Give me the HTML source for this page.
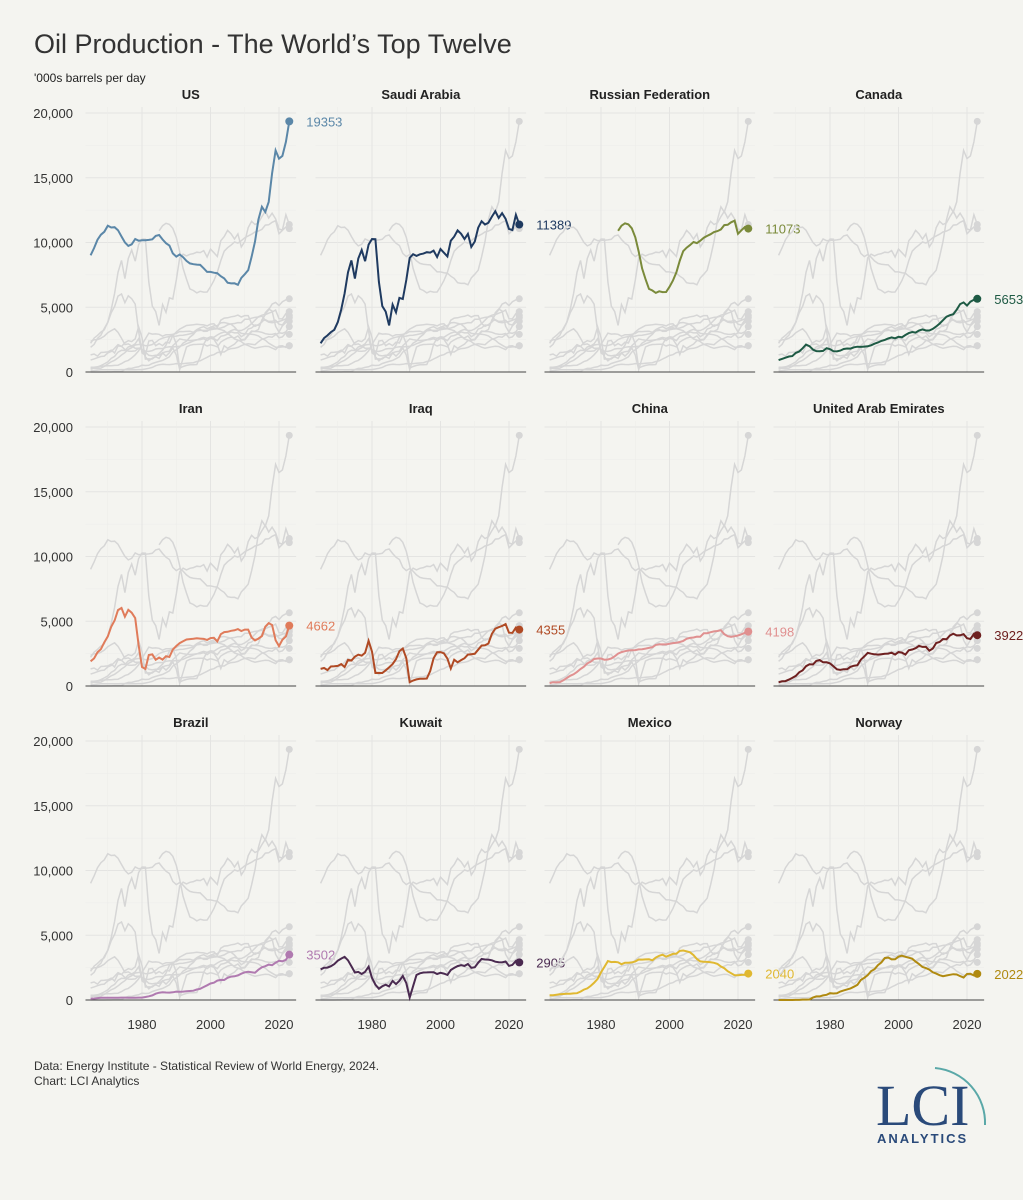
<!DOCTYPE html>
<html><head><meta charset="utf-8">
<style>
body{margin:0;background:#f4f4f0;}
svg{display:block;font-family:"Liberation Sans",sans-serif;}
</style></head>
<body>
<svg id="chart" width="1023" height="1200" viewBox="0 0 1023 1200">
<rect width="1023" height="1200" fill="#f4f4f0"/>
<text x="34" y="53" font-size="27" fill="#333">Oil Production - The World’s Top Twelve</text>
<text x="34" y="82" font-size="12" fill="#222">'000s barrels per day</text>
<text x="34" y="1070" font-size="12" fill="#333">Data: Energy Institute - Statistical Review of World Energy, 2024.</text>
<text x="34" y="1085" font-size="12" fill="#333">Chart: LCI Analytics</text>
<g>
<path d="M935 1068 A55 55 0 0 1 985 1125" fill="none" stroke="#5aa8a8" stroke-width="2"/>
<text x="876" y="1125" font-family="Liberation Serif,serif" font-size="58" fill="#2a4a7a">LCI</text>
<text x="877" y="1143" font-size="13" font-weight="bold" letter-spacing="2" fill="#2a4a7a">ANALYTICS</text>
</g>
<g id="panels"></g>
</svg>
<script>
const startYear = 1965;
const countries = ["US","Saudi Arabia","Russian Federation","Canada","Iran","Iraq","China","United Arab Emirates","Brazil","Kuwait","Mexico","Norway"];
const colors = ["#5b87a8","#1f3a60","#7a8a3a","#1e5a44","#e07b5a","#b04a24","#e09090","#6e2020","#b07ab0","#4a2a50","#e0b830","#b08a10"];
const usValues = [9014,9579,10219,10600,10828,11297,11156,11185,10946,10461,10008,9736,9863,10274,10136,10170,10181,10199,10247,10509,10580,10231,9944,9765,9159,8914,9076,8868,8583,8389,8322,8295,8269,8011,7731,7733,7669,7626,7400,7228,6895,6841,6847,6734,7270,7549,7859,8894,10071,11768,12757,12354,13135,15348,17114,16476,16685,17770,19353];
const saudiValues = [2219,2615,2825,3081,3262,3851,4821,6070,7693,8618,7216,8762,9419,8554,9841,10270,10256,6961,5086,4663,3601,5208,4599,5720,5635,7106,8820,9098,8962,9087,9145,9254,9218,9376,8884,9491,9209,8928,10141,10458,10931,10671,10268,10663,9663,10075,11144,11635,11393,11519,11998,12406,11892,12261,11832,11039,10954,12136,11389];
const russiaValues = [null,null,null,null,null,null,null,null,null,null,null,null,null,null,null,null,null,null,null,null,10900,11300,11480,11400,11100,10400,9300,8000,7170,6420,6290,6110,6230,6170,6180,6580,7060,7700,8600,9330,9600,9800,10040,9950,10140,10370,10510,10640,10810,10880,11010,11340,11370,11560,11680,10670,10940,11200,11073];
const canadaValues = [920,1012,1106,1194,1228,1473,1582,1829,2114,1995,1735,1617,1606,1630,1839,1764,1610,1590,1653,1773,1812,1807,1907,1950,1936,1965,1981,2065,2184,2276,2402,2480,2588,2672,2604,2721,2677,2858,3004,3085,3041,3208,3290,3207,3202,3332,3515,3740,4000,4271,4388,4464,4813,5244,5372,5130,5429,5576,5653];
const iranValues = [1908,2132,2603,2840,3376,3829,4572,5059,5861,6022,5350,5883,5663,5242,3168,1467,1315,2391,2442,2032,2193,2037,2298,2240,2814,3088,3312,3455,3587,3618,3643,3686,3664,3634,3557,3696,3724,3444,3999,4164,4185,4260,4303,4396,4249,4356,4358,3742,3525,3663,3853,4578,4855,4712,3536,3084,3569,3821,4662];
const iraqValues = [1321,1392,1228,1503,1521,1549,1694,1466,2018,1971,2262,2415,2348,2563,3489,2658,1000,1010,1005,1209,1433,1690,2079,2685,2897,2149,305,425,512,553,560,579,1155,2150,2610,2614,2523,2116,1344,2030,1833,1999,2143,2428,2452,2490,2801,3116,3141,3285,4031,4423,4538,4632,4779,4114,4102,4520,4355];
const chinaValues = [227,291,278,304,437,616,785,904,1090,1315,1490,1742,1878,2082,2122,2124,2030,2045,2123,2296,2505,2621,2690,2739,2757,2774,2828,2845,2890,2939,2993,3175,3211,3212,3213,3257,3310,3346,3401,3481,3642,3711,3742,3814,3805,4077,4074,4155,4216,4246,4309,3999,3846,3802,3848,3901,3994,4111,4198];
const uaeValues = [282,360,382,497,628,779,1059,1203,1532,1679,1664,1936,1999,1831,1831,1745,1528,1288,1246,1297,1287,1484,1564,1610,2032,2283,2556,2493,2446,2428,2458,2484,2503,2568,2428,2620,2581,2426,2756,2818,2922,3098,3020,3026,2725,2895,3320,3399,3627,3603,3898,4038,3910,3912,3998,3693,3629,4021,3922];
const brazilValues = [96,118,148,168,179,171,176,173,176,182,183,181,172,174,182,188,229,284,356,484,563,593,580,569,596,650,644,646,669,693,718,807,868,1003,1133,1271,1337,1499,1555,1542,1716,1809,1833,1899,2029,2137,2179,2145,2110,2341,2525,2608,2734,2685,2877,3026,2987,3107,3502];
const kuwaitValues = [2371,2484,2500,2613,2773,3036,3197,3339,3067,2613,2124,2168,2004,2175,2575,1706,1183,865,1066,1185,1054,1475,1227,1485,1852,1306,193,1069,1931,2061,2122,2134,2145,2150,2011,2103,2040,1935,2317,2475,2618,2690,2636,2782,2489,2536,2880,3169,3129,3123,3068,2954,2916,2901,2974,2636,2712,3018,2905];
const mexicoValues = [362,370,411,439,461,487,486,506,525,652,806,897,1085,1330,1630,2129,2553,3001,2930,2942,2912,2764,2879,2879,2904,2977,3126,3117,3132,3142,3065,3277,3410,3499,3343,3450,3560,3585,3789,3824,3760,3683,3471,3167,2978,2959,2940,2911,2875,2785,2588,2456,2224,2069,1918,1914,1941,1944,2040];
const norwayValues = [0,0,0,0,0,6,6,33,32,35,189,279,280,356,403,528,501,520,660,745,817,897,1024,1171,1545,1716,1923,2229,2377,2693,2903,3232,3280,3138,3139,3346,3418,3333,3264,3189,2969,2779,2551,2465,2350,2136,2039,1917,1838,1895,1948,1995,1969,1844,1730,2004,2025,1901,2022];
const series = [usValues,saudiValues,russiaValues,canadaValues,iranValues,iraqValues,chinaValues,uaeValues,brazilValues,kuwaitValues,mexicoValues,norwayValues];
const yTicks = [0,5000,10000,15000,20000];
const yTickLabels = ["0","5,000","10,000","15,000","20,000"];
const xTicks = [1980,2000,2020];

const NS="http://www.w3.org/2000/svg";
const root=document.getElementById('panels');
function mk(tag,attrs,parent){const e=document.createElementNS(NS,tag);for(const k in attrs)e.setAttribute(k,attrs[k]);parent.appendChild(e);return e;}
const colOff=[0,230,459,688], rowOff=[0,314,628];
function xs(c,year){return 142+colOff[c]+(year-1980)*3.425;}
function ys(r,v){return 372+rowOff[r]-v*0.01295;}
function pathFor(vals,c,r){let d="",pen=false;vals.forEach((v,i)=>{if(v===null){pen=false;return;}d+=(pen?"L":"M")+xs(c,startYear+i).toFixed(1)+" "+ys(r,v).toFixed(1);pen=true;});return d;}
function lastIdx(vals){return vals.length-1;}

for(let k=0;k<12;k++){
  const c=k%4,r=Math.floor(k/4);
  const g=mk('g',{},root);
  
  
  const x0=xs(c,1963.5),x1=xs(c,2025);
  for(let v=0;v<=20000;v+=2500){
    const gl=mk('line',{x1:x0,x2:x1,y1:ys(r,v),y2:ys(r,v),stroke:v%5000?'#ececea':'#e4e4e2','stroke-width':v%5000?0.6:1},g);
    
    
  }
  for(let yr=1970;yr<=2020;yr+=10){
    const gl=mk('line',{x1:xs(c,yr),x2:xs(c,yr),y1:ys(r,0),y2:ys(r,20000)-6,stroke:yr%20?'#ececea':'#e4e4e2','stroke-width':yr%20?0.6:1},g);
    
    
  }
  const t=mk('text',{x:(x0+x1)/2,y:ys(r,20000)-14,'text-anchor':'middle','font-size':13,'font-weight':'bold',fill:'#222'},g);
  t.textContent=countries[k];
  
  
  series.forEach((vals,j)=>{
    if(j===k)return;
    const p=mk('path',{d:pathFor(vals,c,r),fill:'none',stroke:'#d6d6d6','stroke-width':1.5},g);
    
    
    const li=lastIdx(vals);
    const d=mk('circle',{cx:xs(c,startYear+li),cy:ys(r,vals[li]),r:3.5,fill:'#d6d6d6'},g);
    
    
  });
  const ax=mk('line',{x1:x0,x2:x1,y1:ys(r,0),y2:ys(r,0),stroke:'#444','stroke-width':1},g);
  
  
  const vals=series[k];
  const p=mk('path',{d:pathFor(vals,c,r),fill:'none',stroke:colors[k],'stroke-width':2},g);
  
  
  const li=lastIdx(vals);
  const dot=mk('circle',{cx:xs(c,startYear+li),cy:ys(r,vals[li]),r:4,fill:colors[k]},g);
  
  
  const lbl=mk('text',{x:xs(c,startYear+li)+17,y:ys(r,vals[li])+5,'font-size':13,fill:colors[k]},g);
  lbl.textContent=String(vals[li]);
  
  
  if(c===0){
    yTicks.forEach((v,i)=>{
      const tl=mk('text',{x:73,y:ys(r,v)+5,'text-anchor':'end','font-size':13,fill:'#333'},g);
      tl.textContent=yTickLabels[i];
      
      
    });
  }
  if(r===2){
    xTicks.forEach(yr=>{
      const tl=mk('text',{x:xs(c,yr),y:ys(r,0)+29,'text-anchor':'middle','font-size':13,fill:'#333'},g);
      tl.textContent=String(yr);
      
      
    });
  }
}
</script>
</body></html>
